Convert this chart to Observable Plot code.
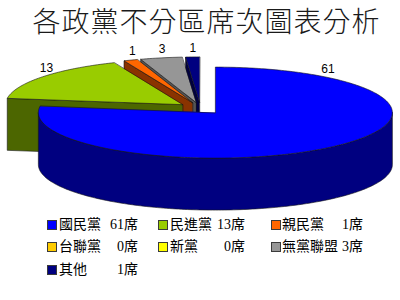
<!DOCTYPE html>
<html><head><meta charset="utf-8">
<script src="https://cdn.jsdelivr.net/npm/d3@7"></script>
<script src="https://cdn.jsdelivr.net/npm/@observablehq/plot@0.6"></script>
<style>
html,body{margin:0;padding:0;background:#fff;}
#wrap{position:relative;width:400px;height:300px;overflow:hidden;background:#fff;}
#title{position:absolute;left:0;top:5px;width:413px;text-align:center;font-family:"Noto Sans CJK TC","Noto Sans CJK SC",sans-serif;font-weight:300;font-size:28px;letter-spacing:1px;line-height:31px;color:#1a1a1a;white-space:nowrap;}
#chart{position:absolute;left:0;top:40px;}
.sw{position:absolute;width:8px;height:8px;border:1px solid #3a3a3a;}
.lt{position:absolute;font-family:"Liberation Serif","Noto Sans CJK TC",serif;font-size:14px;line-height:18px;color:#000;white-space:nowrap;}
</style></head><body>
<div id="wrap"><div id="title"></div><div id="chart"></div><div id="legend"></div></div>
<script>
// ---- data ----
const title = "各政黨不分區席次圖表分析";
const parties = ["國民黨", "民進黨", "親民黨", "台聯黨", "新黨", "無黨聯盟", "其他"];
const seats = [61, 13, 1, 0, 0, 3, 1];
const unit = "席";
const topColors = ["#0000FF", "#99CC00", "#FF6600", "#FFCC00", "#FFFF00", "#969696", "#000080"];
const sideColors = ["#000080", "#4C6600", "#8A3300", "#806600", "#808000", "#555555", "#000040"];

// ---- layout ----
const W = 400, H = 172, TOP = 40;
const cx = 200, cy = 107.7, rx = 177, ry = 45.5, depth = 52, explode = 0.128;

document.getElementById("title").textContent = title;

const arcs = d3.pie().sort(null).value(d => d)(seats);
const faceGroups = [], walls = [], tops = [], labels = [];
const step = Math.PI / 180;
function arcPts(o, a, b, dz) {
  const pts = [];
  const n = Math.max(1, Math.ceil(Math.abs(b - a) / step));
  for (let k = 0; k <= n; k++) {
    const t = a + (b - a) * k / n;
    pts.push([o[0] + rx * Math.sin(t), o[1] - ry * Math.cos(t) + dz]);
  }
  return pts;
}
const toRows = (id, pts, fill) => pts.map(p => ({id, x: p[0], y: p[1], fill}));
arcs.forEach((s, i) => {
  if (s.value <= 0) return;
  const a0 = s.startAngle, a1 = s.endAngle, mid = (a0 + a1) / 2;
  const o = [cx + explode * rx * Math.sin(mid), cy - explode * ry * Math.cos(mid)];
  // cut faces (front-facing only); remember their angle for back-to-front order
  if (Math.cos(a0 - Math.PI / 2) < -1e-6) {
    const p = arcPts(o, a0, a0, 0)[0];
    faceGroups.push({depthKey: -Math.cos(a0), rows: toRows("fs" + i, [o, p, [p[0], p[1] + depth], [o[0], o[1] + depth]], sideColors[i])});
  }
  if (Math.cos(a1 + Math.PI / 2) < -1e-6) {
    const p = arcPts(o, a1, a1, 0)[0];
    faceGroups.push({depthKey: -Math.cos(a1), rows: toRows("fe" + i, [o, p, [p[0], p[1] + depth], [o[0], o[1] + depth]], sideColors[i])});
  }
  // outer wall, visible part between 90° and 270°
  const ws = Math.max(a0, Math.PI / 2), we = Math.min(a1, 3 * Math.PI / 2);
  if (we > ws) {
    walls.push(...toRows("w" + i, arcPts(o, ws, we, 0).concat(arcPts(o, we, ws, depth)), sideColors[i]));
  }
  // top face
  tops.push(...toRows("t" + i, [o].concat(arcPts(o, a0, a1, 0)), topColors[i]));
  // value label on the visible rim
  let la = mid;
  if (Math.cos(la) < 0) la = Math.PI - la;
  labels.push({x: o[0] + 0.97 * rx * Math.sin(la), y: o[1] - ry * Math.cos(la) - 9, text: String(s.value)});
});
// back faces (further up the screen) first
const faces = faceGroups.sort((a, b) => a.depthKey - b.depthKey).flatMap(g => g.rows);

const lineOpts = {x: "x", y: "y", z: "id", fill: "fill", stroke: "#161616", strokeWidth: 0.6, strokeLinejoin: "round", curve: "linear-closed"};
const chart = Plot.plot({
  width: W, height: H, margin: 0,
  style: {background: "transparent", overflow: "visible"},
  x: {domain: [0, W], range: [0, W], axis: null},
  y: {domain: [TOP, TOP + H], range: [0, H], axis: null},
  color: {type: "identity"},
  marks: [
    Plot.line(faces, lineOpts),
    Plot.line(walls, lineOpts),
    Plot.line(tops, lineOpts),
    Plot.text(labels, {x: "x", y: "y", text: "text", fontSize: 12, fontFamily: "Liberation Sans, Arial, sans-serif", fill: "#000"})
  ]
});
document.getElementById("chart").appendChild(chart);

// ---- legend ----
const colSw = [47, 158, 271], colName = [59, 170, 282], colValR = [138, 245, 363], rowY = [226, 248, 271];
const leg = document.getElementById("legend");
parties.forEach((p, i) => {
  const c = i % 3, r = Math.floor(i / 3);
  const sw = document.createElement("div");
  sw.className = "sw";
  sw.style.left = colSw[c] + "px";
  sw.style.top = (rowY[r] - 6) + "px";
  sw.style.background = topColors[i];
  leg.appendChild(sw);
  const nm = document.createElement("div");
  nm.className = "lt";
  nm.style.left = colName[c] + "px";
  nm.style.top = (rowY[r] - 10) + "px";
  nm.textContent = p;
  leg.appendChild(nm);
  const v = document.createElement("div");
  v.className = "lt";
  v.style.right = (400 - colValR[c]) + "px";
  v.style.top = (rowY[r] - 10) + "px";
  v.textContent = seats[i] + unit;
  leg.appendChild(v);
});
</script>
</body></html>
